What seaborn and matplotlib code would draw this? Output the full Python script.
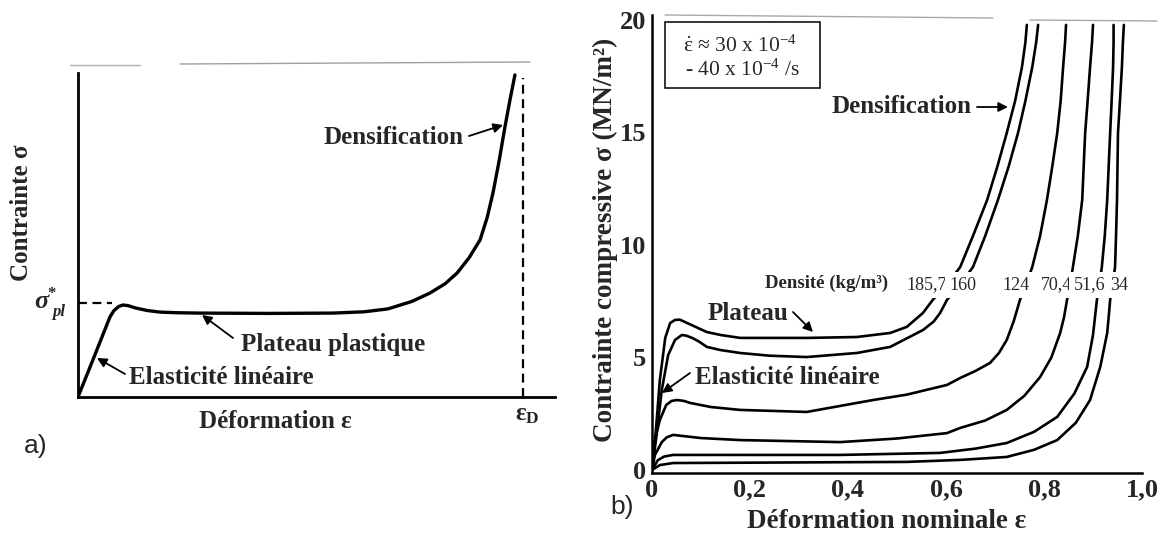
import numpy as np
import pandas as pd
import matplotlib
matplotlib.use("Agg")
import matplotlib.pyplot as plt
import seaborn as sns

# ------------------------------------------------------------------ data
# panel a) : schematic stress-strain curve (normalised units)
schema_eps = [0.0, 0.030, 0.067, 0.075, 0.085, 0.094, 0.105, 0.120, 0.145, 0.172,
              0.210, 0.256, 0.400, 0.535, 0.600, 0.650, 0.700, 0.738, 0.770,
              0.795, 0.820, 0.843, 0.858, 0.870, 0.883, 0.895, 0.906, 0.916]
schema_sig = [0.0, 0.110, 0.247, 0.266, 0.279, 0.284, 0.282, 0.275, 0.267, 0.262,
              0.260, 0.259, 0.258, 0.259, 0.263, 0.272, 0.295, 0.321, 0.350,
              0.383, 0.430, 0.485, 0.555, 0.630, 0.730, 0.833, 0.920, 0.994]
sigma_pl = 0.29
eps_D = 0.933

# panel b) : compressive curves for six densities (kg/m3)
densities = ["185,7", "160", "124", "70,4", "51,6", "34"]
eps_1857 = [0, 0.008, 0.016, 0.027, 0.037, 0.047, 0.057, 0.067, 0.085, 0.112,
            0.140, 0.180, 0.316, 0.418, 0.486, 0.520, 0.553, 0.573, 0.600, 0.629,
            0.655, 0.684, 0.705, 0.724, 0.741, 0.755, 0.762, 0.765]
sig_1857 = [0, 1.78, 4.00, 5.87, 6.53, 6.67, 6.68, 6.58, 6.40, 6.13,
            6.00, 5.87, 5.87, 5.91, 6.09, 6.36, 6.98, 7.56, 8.20, 9.02,
            10.4, 12.0, 13.5, 14.98, 16.4, 17.9, 19.0, 19.78]
eps_160 = [0, 0.008, 0.020, 0.033, 0.047, 0.061, 0.070, 0.082, 0.095, 0.112,
           0.140, 0.180, 0.240, 0.316, 0.418, 0.486, 0.553, 0.575, 0.588, 0.602,
           0.628, 0.655, 0.680, 0.706, 0.728, 0.747, 0.762, 0.776, 0.784, 0.788]
sig_160 = [0, 1.33, 3.56, 5.11, 5.78, 6.00, 5.97, 5.87, 5.72, 5.47,
           5.33, 5.20, 5.08, 5.02, 5.20, 5.47, 6.22, 6.60, 6.98, 7.56,
           8.20, 9.02, 10.4, 12.0, 13.5, 14.98, 16.4, 17.9, 19.0, 19.78]
eps_124 = [0, 0.006, 0.016, 0.029, 0.040, 0.051, 0.065, 0.078, 0.120, 0.180,
           0.316, 0.451, 0.520, 0.602, 0.629, 0.660, 0.690, 0.708, 0.724, 0.738,
           0.751, 0.763, 0.776, 0.792, 0.806, 0.817, 0.827, 0.834, 0.839, 0.843, 0.845]
sig_124 = [0, 1.33, 2.22, 2.89, 3.07, 3.11, 3.07, 2.98, 2.80, 2.67,
           2.58, 3.11, 3.35, 3.78, 4.09, 4.40, 4.76, 5.20, 5.78, 6.60,
           7.56, 8.20, 9.02, 10.4, 12.0, 13.5, 14.98, 16.4, 17.9, 19.0, 19.78]
eps_704 = [0, 0.006, 0.020, 0.030, 0.043, 0.100, 0.180, 0.384, 0.500, 0.602,
           0.629, 0.680, 0.724, 0.760, 0.792, 0.815, 0.833, 0.841, 0.847, 0.853,
           0.859, 0.869, 0.878, 0.881, 0.884, 0.889, 0.894, 0.898, 0.900]
sig_704 = [0, 0.67, 1.24, 1.45, 1.56, 1.42, 1.33, 1.24, 1.40, 1.64,
           1.87, 2.20, 2.67, 3.30, 4.13, 5.00, 6.09, 6.80, 7.56, 8.20,
           9.02, 10.4, 12.0, 13.5, 14.98, 16.4, 17.9, 19.0, 19.78]
eps_516 = [0, 0.012, 0.025, 0.043, 0.384, 0.588, 0.660, 0.724, 0.780, 0.827,
           0.862, 0.888, 0.900, 0.908, 0.913, 0.918, 0.924, 0.929, 0.932, 0.935,
           0.938, 0.941, 0.942, 0.942]
sig_516 = [0, 0.44, 0.60, 0.67, 0.67, 0.76, 0.95, 1.20, 1.70, 2.36,
           3.40, 4.58, 6.00, 7.56, 8.20, 9.02, 10.4, 12.0, 13.5, 14.98,
           16.4, 17.9, 19.0, 19.78]
eps_34 = [0, 0.016, 0.043, 0.520, 0.630, 0.724, 0.780, 0.827, 0.865, 0.894,
          0.915, 0.929, 0.932, 0.935, 0.940, 0.945, 0.947, 0.949, 0.950, 0.951,
          0.955, 0.959, 0.961, 0.963]
sig_34 = [0, 0.22, 0.31, 0.36, 0.45, 0.58, 0.90, 1.33, 2.10, 3.11,
          4.60, 6.09, 6.80, 7.56, 8.20, 9.02, 10.4, 12.0, 13.5, 14.98,
          16.4, 17.9, 19.0, 19.78]

x_ticks = [0, 0.2, 0.4, 0.6, 0.8, 1.0]
x_tick_labels = ["0", "0,2", "0,4", "0,6", "0,8", "1,0"]
y_ticks = [0, 5, 10, 15, 20]
y_tick_labels = ["0", "5", "10", "15", "20"]

# ------------------------------------------------------------------ style
sns.set_style("white")
plt.rcParams["font.family"] = ["Liberation Serif", "DejaVu Serif"]
plt.rcParams["mathtext.fontset"] = "custom"
plt.rcParams["mathtext.rm"] = "Liberation Serif"
plt.rcParams["mathtext.it"] = "Liberation Serif:italic"
plt.rcParams["mathtext.bf"] = "Liberation Serif:bold"

W, H = 1161, 534
fig = plt.figure(figsize=(W / 100, H / 100), dpi=100)
fig.patch.set_facecolor("white")


def F(px, py):
    return (px / W, 1 - py / H)


def ftext(px, py, s, **kw):
    x, y = F(px, py)
    kw.setdefault("ha", "center")
    kw.setdefault("va", "center")
    return fig.text(x, y, s, **kw)


def farrow(tail, head, lw=1.3, ms=14):
    fig.add_artist(matplotlib.patches.FancyArrowPatch(
        F(*tail), F(*head), transform=fig.transFigure, arrowstyle="-|>",
        mutation_scale=ms, color="black", lw=lw, shrinkA=0, shrinkB=0))


# ------------------------------------------------------------------ panel a
axA = fig.add_axes([78 / W, 1 - 397 / H, 477 / W, 324 / H])
sns.lineplot(x=schema_eps, y=schema_sig, ax=axA, sort=False, estimator=None,
             color="black", lw=2.4)
axA.plot([0, 0.071], [sigma_pl, sigma_pl], ls=(0, (4, 2.5)), color="black", lw=1.6)
axA.plot([eps_D, eps_D], [0, 0.985], ls=(0, (4, 2.5)), color="black", lw=1.6)
axA.set_xlim(0, 1)
axA.set_ylim(0, 1)
axA.set_xticks([])
axA.set_yticks([])
for s in ["top", "right"]:
    axA.spines[s].set_visible(False)
for s in ["left", "bottom"]:
    axA.spines[s].set_linewidth(2.0)
    axA.spines[s].set_color("black")
axA.patch.set_alpha(0)

ftext(22, 213, "Contrainte σ", rotation=90, fontsize=18, fontweight="bold")
ftext(41, 302, "σ", fontsize=19, fontweight="bold", style="italic")
ftext(52, 294, "*", fontsize=12, fontweight="bold")
ftext(59, 312, "pl", fontsize=12, fontweight="bold", style="italic")
ftext(394, 138, "Densification", fontsize=18, fontweight="bold")
farrow((469, 136), (503, 125))
ftext(333, 344, "Plateau plastique", fontsize=18, fontweight="bold")
farrow((233, 338), (202, 315))
ftext(221, 378, "Elasticité linéaire", fontsize=18, fontweight="bold")
farrow((125, 374), (97, 358))
ftext(275, 421, "Déformation ε", fontsize=18, fontweight="bold")
ftext(527, 415, r"$\mathbf{ε}_{\mathbf{D}}$", fontsize=18)
ftext(36, 446, "a)", fontsize=19, family=["Liberation Sans", "DejaVu Sans"])

# faint scan lines of the original frame
fig.add_artist(matplotlib.lines.Line2D([70 / W, 140 / W], [1 - 65 / H] * 2,
                                       color="#b0b0b0", lw=1))
fig.add_artist(matplotlib.lines.Line2D([180 / W, 530 / W], [1 - 64 / H, 1 - 62 / H],
                                       color="#a0a0a0", lw=1))

# ------------------------------------------------------------------ panel b
curves = [(eps_1857, sig_1857), (eps_160, sig_160), (eps_124, sig_124),
          (eps_704, sig_704), (eps_516, sig_516), (eps_34, sig_34)]
frames = []
for name, (e, s) in zip(densities, curves):
    frames.append(pd.DataFrame({"eps": e, "sigma": s, "density": name}))
df = pd.concat(frames, ignore_index=True)

axB = fig.add_axes([652 / W, 1 - 473 / H, 490 / W, 458 / H])
sns.lineplot(data=df, x="eps", y="sigma", hue="density", units="density",
             palette=["black"] * len(densities), sort=False, estimator=None,
             lw=1.9, legend=False, ax=axB)
for ln in axB.get_lines():
    ln.set_solid_joinstyle("round")
axB.set_xlim(0, 1.0)
axB.set_ylim(-0.133, 20.22)
axB.set_xticks(x_ticks)
axB.set_xticklabels(x_tick_labels)
axB.set_yticks(y_ticks)
axB.set_yticklabels(y_tick_labels)
axB.tick_params(length=0, labelsize=19, pad=4)
for lab in axB.get_xticklabels() + axB.get_yticklabels():
    lab.set_fontweight("bold")
axB.set_xlabel("")
axB.set_ylabel("")
for s in ["top", "right"]:
    axB.spines[s].set_visible(False)
for s in ["left", "bottom"]:
    axB.spines[s].set_linewidth(1.8)
    axB.spines[s].set_color("black")
axB.patch.set_alpha(0)

ftext(605, 240, "Contrainte compressive σ (MN/m²)", rotation=90, fontsize=19.5,
      fontweight="bold")
ftext(887, 521, "Déformation nominale ε", fontsize=19.5, fontweight="bold")
ftext(622, 507, "b)", fontsize=19, family=["Liberation Sans", "DejaVu Sans"])

# strain-rate box
x0, y0 = F(665, 88)
x1, y1 = F(820, 22)
fig.add_artist(matplotlib.patches.Rectangle((x0, y0), x1 - x0, y1 - y0,
                                            transform=fig.transFigure,
                                            fill=False, ec="black", lw=1.1))
ftext(740, 46, r"$\dot{\mathrm{ε}}$ ≈ 30 x 10$^{-4}$", fontsize=15.5)
ftext(742, 70, r"- 40 x 10$^{-4}$ /s", fontsize=15.5)

ftext(902, 107, "Densification", fontsize=18, fontweight="bold")
farrow((977, 107), (1008, 107))

ftext(827, 283, "Densité (kg/m³)", fontsize=13.5, fontweight="bold")
num_pos = [927, 963, 1016, 1056, 1090, 1119]
for name, px in zip(densities, num_pos):
    ftext(px, 285, name, fontsize=13,
          bbox=dict(facecolor="white", edgecolor="none", pad=3.5))

ftext(748, 313, "Plateau", fontsize=18, fontweight="bold")
farrow((793, 312), (813, 332))
ftext(787, 377, "Elasticité linéaire", fontsize=18, fontweight="bold",
      bbox=dict(facecolor="white", edgecolor="none", pad=0.5))
farrow((690, 373), (662, 393))

fig.add_artist(matplotlib.lines.Line2D([665 / W, 993 / W], [1 - 15 / H, 1 - 18 / H],
                                       color="#a8a8a8", lw=1))
fig.add_artist(matplotlib.lines.Line2D([1030 / W, 1157 / W], [1 - 20 / H, 1 - 21 / H],
                                       color="#a8a8a8", lw=1))

fig.savefig("out.png", dpi=100, facecolor="white")
